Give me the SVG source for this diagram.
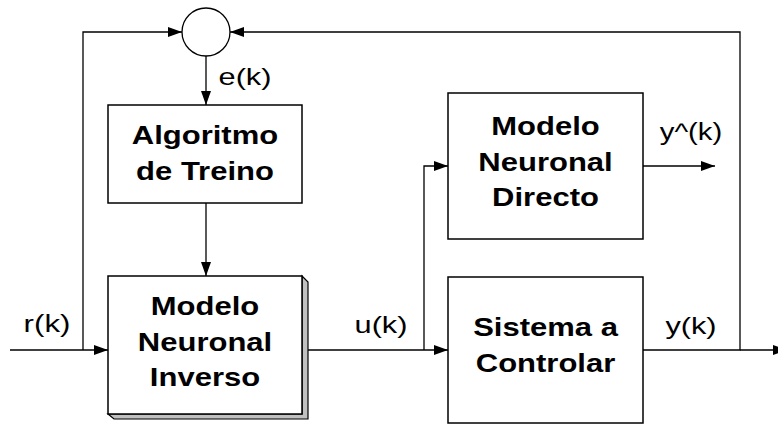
<svg xmlns="http://www.w3.org/2000/svg" width="778" height="426" viewBox="0 0 778 426">
<style>
.box{fill:#fff;stroke:#000;stroke-width:1.5}
.ln{fill:none;stroke:#000;stroke-width:1.3}
.t{font-family:"Liberation Sans",Arial,sans-serif;font-weight:bold;font-size:25px;text-anchor:middle;fill:#000}
.l{font-family:"Liberation Sans",Arial,sans-serif;font-size:24px;text-anchor:middle;fill:#000}
</style>
<defs>
<marker id="ah" markerUnits="userSpaceOnUse" markerWidth="15" markerHeight="11" refX="14" refY="5" orient="auto">
<path d="M0,0 L14,5 L0,10 z" fill="#000"/>
</marker>
</defs>
<rect width="778" height="426" fill="#fff"/>
<g id="connectors">
<path class="ln" d="M10,350 H108" marker-end="url(#ah)"/>
<path class="ln" d="M83,350 V32 H182" marker-end="url(#ah)"/>
<path class="ln" d="M643,350 H740 V32 H230" marker-end="url(#ah)"/>
<path class="ln" d="M740,350 H787" marker-end="url(#ah)"/>
<path class="ln" d="M206,56 V105" marker-end="url(#ah)"/>
<path class="ln" d="M206,203 V276" marker-end="url(#ah)"/>
<path class="ln" d="M302,350 H448" marker-end="url(#ah)"/>
<path class="ln" d="M424,350 V166 H448" marker-end="url(#ah)"/>
<path class="ln" d="M643,166 H715" marker-end="url(#ah)"/>
</g>
<g id="labels">
<text class="l" transform="translate(245,85) scale(1.28,1)">e(k)</text>
<text class="l" transform="translate(47,332) scale(1.3,1)">r(k)</text>
<text class="l" transform="translate(381,333) scale(1.28,1)">u(k)</text>
<text class="l" transform="translate(691,140) scale(1.22,1)">y^(k)</text>
<text class="l" transform="translate(691,334) scale(1.28,1)">y(k)</text>
</g>
<g id="sum">
<circle cx="206" cy="32" r="24" fill="#fff" stroke="#000" stroke-width="1.3"/>
</g>
<g id="algoritmo">
<rect class="box" x="108" y="105" width="194" height="98"/>
<text class="t" transform="translate(205,144) scale(1.24,1)">Algoritmo</text>
<text class="t" transform="translate(205,180) scale(1.24,1)">de Treino</text>
</g>
<g id="inverso">
<path d="M302,276 L308,282 V419 H114 L108,414 H302 Z" fill="#c0c0c0" stroke="#000" stroke-width="1.2"/>
<rect class="box" x="108" y="276" width="194" height="138"/>
<text class="t" transform="translate(205,315) scale(1.24,1)">Modelo</text>
<text class="t" transform="translate(205,350.5) scale(1.24,1)">Neuronal</text>
<text class="t" transform="translate(205,386) scale(1.24,1)">Inverso</text>
</g>
<g id="directo">
<rect class="box" x="448" y="93" width="195" height="146"/>
<text class="t" transform="translate(545.5,135) scale(1.24,1)">Modelo</text>
<text class="t" transform="translate(545.5,170.5) scale(1.24,1)">Neuronal</text>
<text class="t" transform="translate(545.5,206) scale(1.24,1)">Directo</text>
</g>
<g id="sistema">
<rect class="box" x="448" y="277" width="195" height="146"/>
<text class="t" transform="translate(545.5,336) scale(1.24,1)">Sistema a</text>
<text class="t" transform="translate(545.5,372) scale(1.24,1)">Controlar</text>
</g>
</svg>
